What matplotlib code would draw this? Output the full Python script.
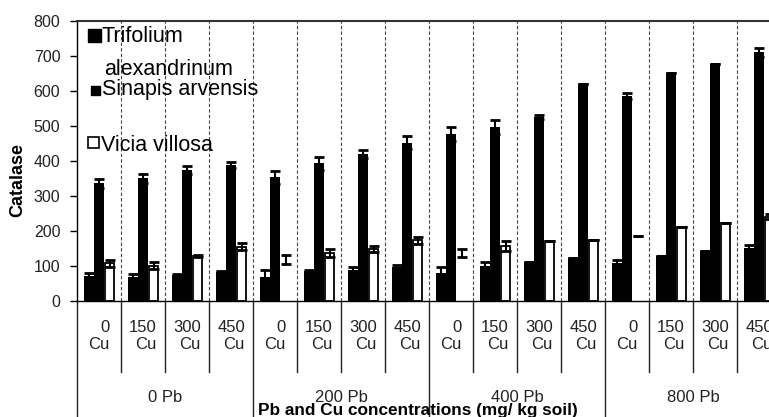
import matplotlib
matplotlib.use("Agg")
import matplotlib.pyplot as plt
import matplotlib.transforms as mtransforms
from matplotlib.patches import Rectangle
import numpy as np

plt.rcParams['font.family'] = ['Liberation Sans', 'DejaVu Sans']

# data
cu_labels = ["0\nCu", "150\nCu", "300\nCu", "450\nCu"] * 4
pb_labels = ["0 Pb", "200 Pb", "400 Pb", "800 Pb"]

trifolium     = [71, 68, 74, 84, 70, 87, 90, 98, 79, 100, 112, 122, 108, 128, 144, 152]
trifolium_err = [8, 8, 3, 2, 19, 3, 8, 6, 19, 12, 0, 0, 9, 0, 0, 7]
sinapis       = [336, 350, 374, 389, 353, 393, 420, 452, 477, 496, 525, 620, 586, 650, 677, 710]
sinapis_err   = [12, 14, 11, 9, 18, 18, 12, 18, 19, 20, 6, 0, 9, 0, 0, 12]
vicia         = [108, 101, 129, 155, 118, 138, 149, 174, 137, 157, 171, 174, 187, 212, 224, 241]
vicia_err     = [10, 10, 3, 10, 13, 12, 8, 10, 12, 14, 0, 0, 0, 0, 0, 7]
# the 0 Cu bars of Vicia are not drawn for 200, 400 and 800 Pb (only the error bar shows)
vicia_shown   = [True, True, True, True, False, True, True, True,
                 False, True, True, True, False, True, True, True]

W, H = 769, 417
fig = plt.figure(figsize=(W / 100, H / 100), dpi=100)
# axes runs past the right edge of the picture, like the original
ax = fig.add_axes([77 / W, 1 - 301 / H, 704 / W, 280 / H])

n = len(trifolium)
g = np.arange(n)
bw = 0.215

ax.bar(g + 0.27, trifolium, bw, color='black', linewidth=0, zorder=2)
ax.bar(g + 0.505, sinapis, bw, color='black', linewidth=0, zorder=2)
vb = ax.bar(g + 0.74, vicia, bw, color='white', edgecolor='black', linewidth=1.3, zorder=2)
for patch, shown in zip(vb, vicia_shown):
    if not shown:
        patch.set_edgecolor('none')

eb = dict(fmt='none', ecolor='black', elinewidth=1.5, capsize=3.3, capthick=2, zorder=3)
ax.errorbar(g + 0.27, trifolium, yerr=trifolium_err, **eb)
ax.errorbar(g + 0.505, sinapis, yerr=sinapis_err, **eb)
ax.errorbar(g + 0.74, vicia, yerr=vicia_err, **eb)

# dashed separators between groups
ax.vlines(np.arange(1, n), 0, 800, colors='#444444', linestyles=(0, (3, 2)),
          linewidth=0.8, zorder=1)

ax.set_xlim(0, n)
ax.set_ylim(0, 800)
ax.set_yticks(np.arange(0, 801, 100))
ax.set_xticks([])
ax.tick_params(axis='y', direction='out', length=5, width=1, pad=7,
               labelsize=11.5, labelcolor='#222222')

ax.spines['right'].set_visible(False)
ax.spines['top'].set_color('#333333')
ax.spines['top'].set_linewidth(1.5)
ax.spines['left'].set_linewidth(1)
ax.spines['bottom'].set_linewidth(1)

# multi-level category axis
trans = mtransforms.blended_transform_factory(ax.transData, ax.transAxes)
for i, lab in enumerate(cu_labels):
    ax.text(i + 0.5, (301 - 336) / 280, lab, transform=trans, ha='center', va='center',
            multialignment='right', fontsize=12, color='#222222', linespacing=1.2)
for i in range(n + 1):
    bottom = (301 - 417) / 280 if i % 4 == 0 else (301 - 372) / 280
    ax.plot([i, i], [0, bottom], transform=trans, clip_on=False,
            color='#222222', linewidth=1)
for j, lab in enumerate(pb_labels):
    ax.text(4 * j + 2, (301 - 397) / 280, lab, transform=trans, ha='center', va='center',
            fontsize=12, color='#222222')

fig.text(418 / W, 1 - 410 / H, "Pb and Cu concentrations (mg/ kg soil)",
         ha='center', va='center', fontsize=12.4, fontweight='bold')
fig.text(17.5 / W, 1 - 180 / H, "Catalase", rotation=90, ha='center', va='center',
         fontsize=13, fontweight='bold')

# legend, placed like the original
fig.add_artist(Rectangle((88 / W, 1 - 42 / H), 13 / W, 13 / H, transform=fig.transFigure,
                         facecolor='black', edgecolor='black'))
fig.add_artist(Rectangle((91 / W, 1 - 94.5 / H), 8.5 / W, 9 / H, transform=fig.transFigure,
                         facecolor='black', edgecolor='black'))
fig.add_artist(Rectangle((88 / W, 1 - 148 / H), 11 / W, 11 / H, transform=fig.transFigure,
                         facecolor='white', edgecolor='black', linewidth=1.2))
leg = dict(fontsize=15.5, va='baseline', ha='left')
fig.text(102 / W, 1 - 42 / H, "Trifolium", **leg)
fig.text(104 / W, 1 - 75 / H, "alexandrinum", **leg)
fig.text(102 / W, 1 - 94.5 / H, "Sinapis arvensis", **leg)
fig.text(101 / W, 1 - 151 / H, "Vicia villosa", **leg)

fig.savefig("out.png", dpi=100)
